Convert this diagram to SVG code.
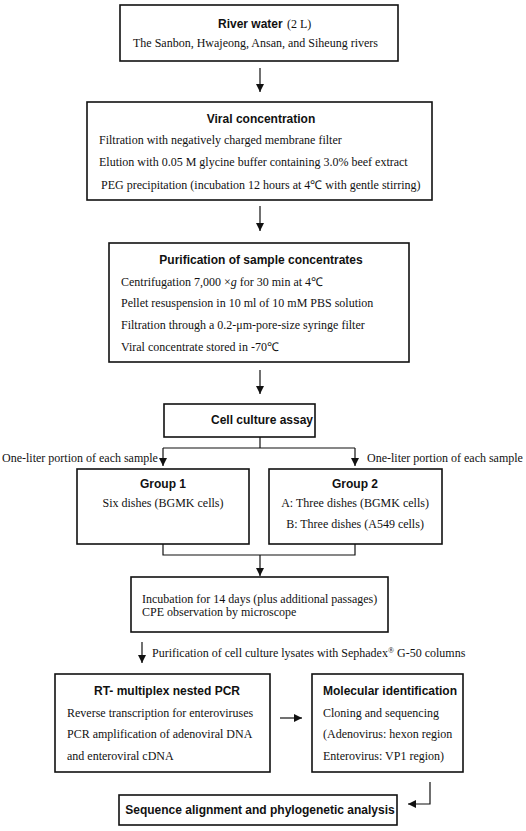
<svg xmlns="http://www.w3.org/2000/svg" width="526" height="831" viewBox="0 0 526 831">
<style>
.box{fill:#fff;stroke:#111;stroke-width:1.6}
.t{font-family:"Liberation Sans",Arial,sans-serif;font-weight:bold;font-size:12px;fill:#111}
.b{font-family:"Liberation Serif","Times New Roman",serif;font-size:12px;fill:#111}
.c{fill:none;stroke:#111;stroke-width:1.2}
</style>
<defs>
<marker id="ah" viewBox="0 0 10 10" refX="10" refY="5" markerWidth="8" markerHeight="8" markerUnits="userSpaceOnUse" orient="auto">
<path d="M0,0 L10,5 L0,10 Z" fill="#111"/>
</marker>
</defs>
<rect width="526" height="831" fill="#fff"/>
<g id="connectors">
<line class="c" x1="260" y1="68" x2="260" y2="92" marker-end="url(#ah)"/>
<line class="c" x1="260" y1="206" x2="260" y2="231" marker-end="url(#ah)"/>
<line class="c" x1="260" y1="370" x2="260" y2="394" marker-end="url(#ah)"/>
<polyline class="c" points="260,437 260,448"/>
<polyline class="c" points="163,448 355,448"/>
<line class="c" x1="163" y1="448" x2="163" y2="466" marker-end="url(#ah)"/>
<line class="c" x1="355" y1="448" x2="355" y2="466" marker-end="url(#ah)"/>
<polyline class="c" points="163,544 163,555 355,555 355,544"/>
<line class="c" x1="260" y1="555" x2="260" y2="576" marker-end="url(#ah)"/>
<line class="c" x1="142" y1="642" x2="142" y2="663" marker-end="url(#ah)"/>
<line class="c" x1="280" y1="718" x2="302" y2="718" marker-end="url(#ah)"/>
<polyline class="c" points="430,782 430,804 408,804" marker-end="url(#ah)"/>
</g>
<g id="n1">
<rect class="box" x="120" y="5" width="278" height="56"/>
<text x="218" y="28" class="t">River water</text>
<text x="287" y="28" class="b">(2 L)</text>
<text x="133" y="47" class="b">The Sanbon, Hwajeong, Ansan, and Siheung rivers</text>
</g>
<g id="n2">
<rect class="box" x="87" y="102" width="345" height="98"/>
<text x="261" y="123" class="t" text-anchor="middle">Viral concentration</text>
<text x="99" y="144" class="b">Filtration with negatively charged membrane filter</text>
<text x="99" y="166" class="b">Elution with 0.05 M glycine buffer containing 3.0% beef extract</text>
<text x="101" y="189" class="b">PEG precipitation (incubation 12 hours at 4℃ with gentle stirring)</text>
</g>
<g id="n3">
<rect class="box" x="109" y="243" width="300" height="119"/>
<text x="261" y="264" class="t" text-anchor="middle">Purification of sample concentrates</text>
<text x="121" y="286" class="b">Centrifugation 7,000 ×<tspan font-style="italic">g</tspan> for 30 min at 4℃</text>
<text x="121" y="307" class="b">Pellet resuspension in 10 ml of 10 mM PBS solution</text>
<text x="121" y="329" class="b">Filtration through a 0.2-μm-pore-size syringe filter</text>
<text x="121" y="351" class="b">Viral concentrate stored in -70℃</text>
</g>
<g id="n4">
<rect class="box" x="164" y="404" width="151" height="33"/>
<text x="262" y="424" class="t" text-anchor="middle">Cell culture assay</text>
</g>
<g id="labels">
<text x="2" y="462" class="b">One-liter portion of each sample</text>
<text x="367" y="462" class="b">One-liter portion of each sample</text>
<text x="152" y="657" class="b">Purification of cell culture lysates with Sephadex<tspan font-size="8" dy="-4">®</tspan><tspan dy="4"> G-50 columns</tspan></text>
</g>
<g id="n5">
<rect class="box" x="77" y="469" width="172" height="75"/>
<text x="163" y="488" class="t" text-anchor="middle">Group 1</text>
<text x="163" y="507" class="b" text-anchor="middle">Six dishes (BGMK cells)</text>
</g>
<g id="n6">
<rect class="box" x="269" y="469" width="173" height="75"/>
<text x="355" y="488" class="t" text-anchor="middle">Group 2</text>
<text x="355" y="507" class="b" text-anchor="middle">A: Three dishes (BGMK cells)</text>
<text x="355" y="528" class="b" text-anchor="middle">B: Three dishes (A549 cells)</text>
</g>
<g id="n7">
<rect class="box" x="131" y="577" width="257" height="55"/>
<text x="142" y="603" class="b">Incubation for 14 days (plus additional passages)</text>
<text x="142" y="616" class="b">CPE observation by microscope</text>
</g>
<g id="n8">
<rect class="box" x="55" y="674" width="215" height="98"/>
<text x="167" y="695" class="t" text-anchor="middle">RT- multiplex nested PCR</text>
<text x="67" y="717" class="b">Reverse transcription for enteroviruses</text>
<text x="67" y="738" class="b">PCR amplification of adenoviral DNA</text>
<text x="67" y="760" class="b">and enteroviral cDNA</text>
</g>
<g id="n9">
<rect class="box" x="312" y="674" width="151" height="98"/>
<text x="323" y="695" class="t">Molecular identification</text>
<text x="323" y="717" class="b">Cloning and sequencing</text>
<text x="323" y="738" class="b">(Adenovirus: hexon region</text>
<text x="323" y="760" class="b">Enterovirus: VP1 region)</text>
</g>
<g id="n10">
<rect class="box" x="119" y="795" width="278" height="30"/>
<text x="260" y="814" class="t" text-anchor="middle">Sequence alignment and phylogenetic analysis</text>
</g>
</svg>
